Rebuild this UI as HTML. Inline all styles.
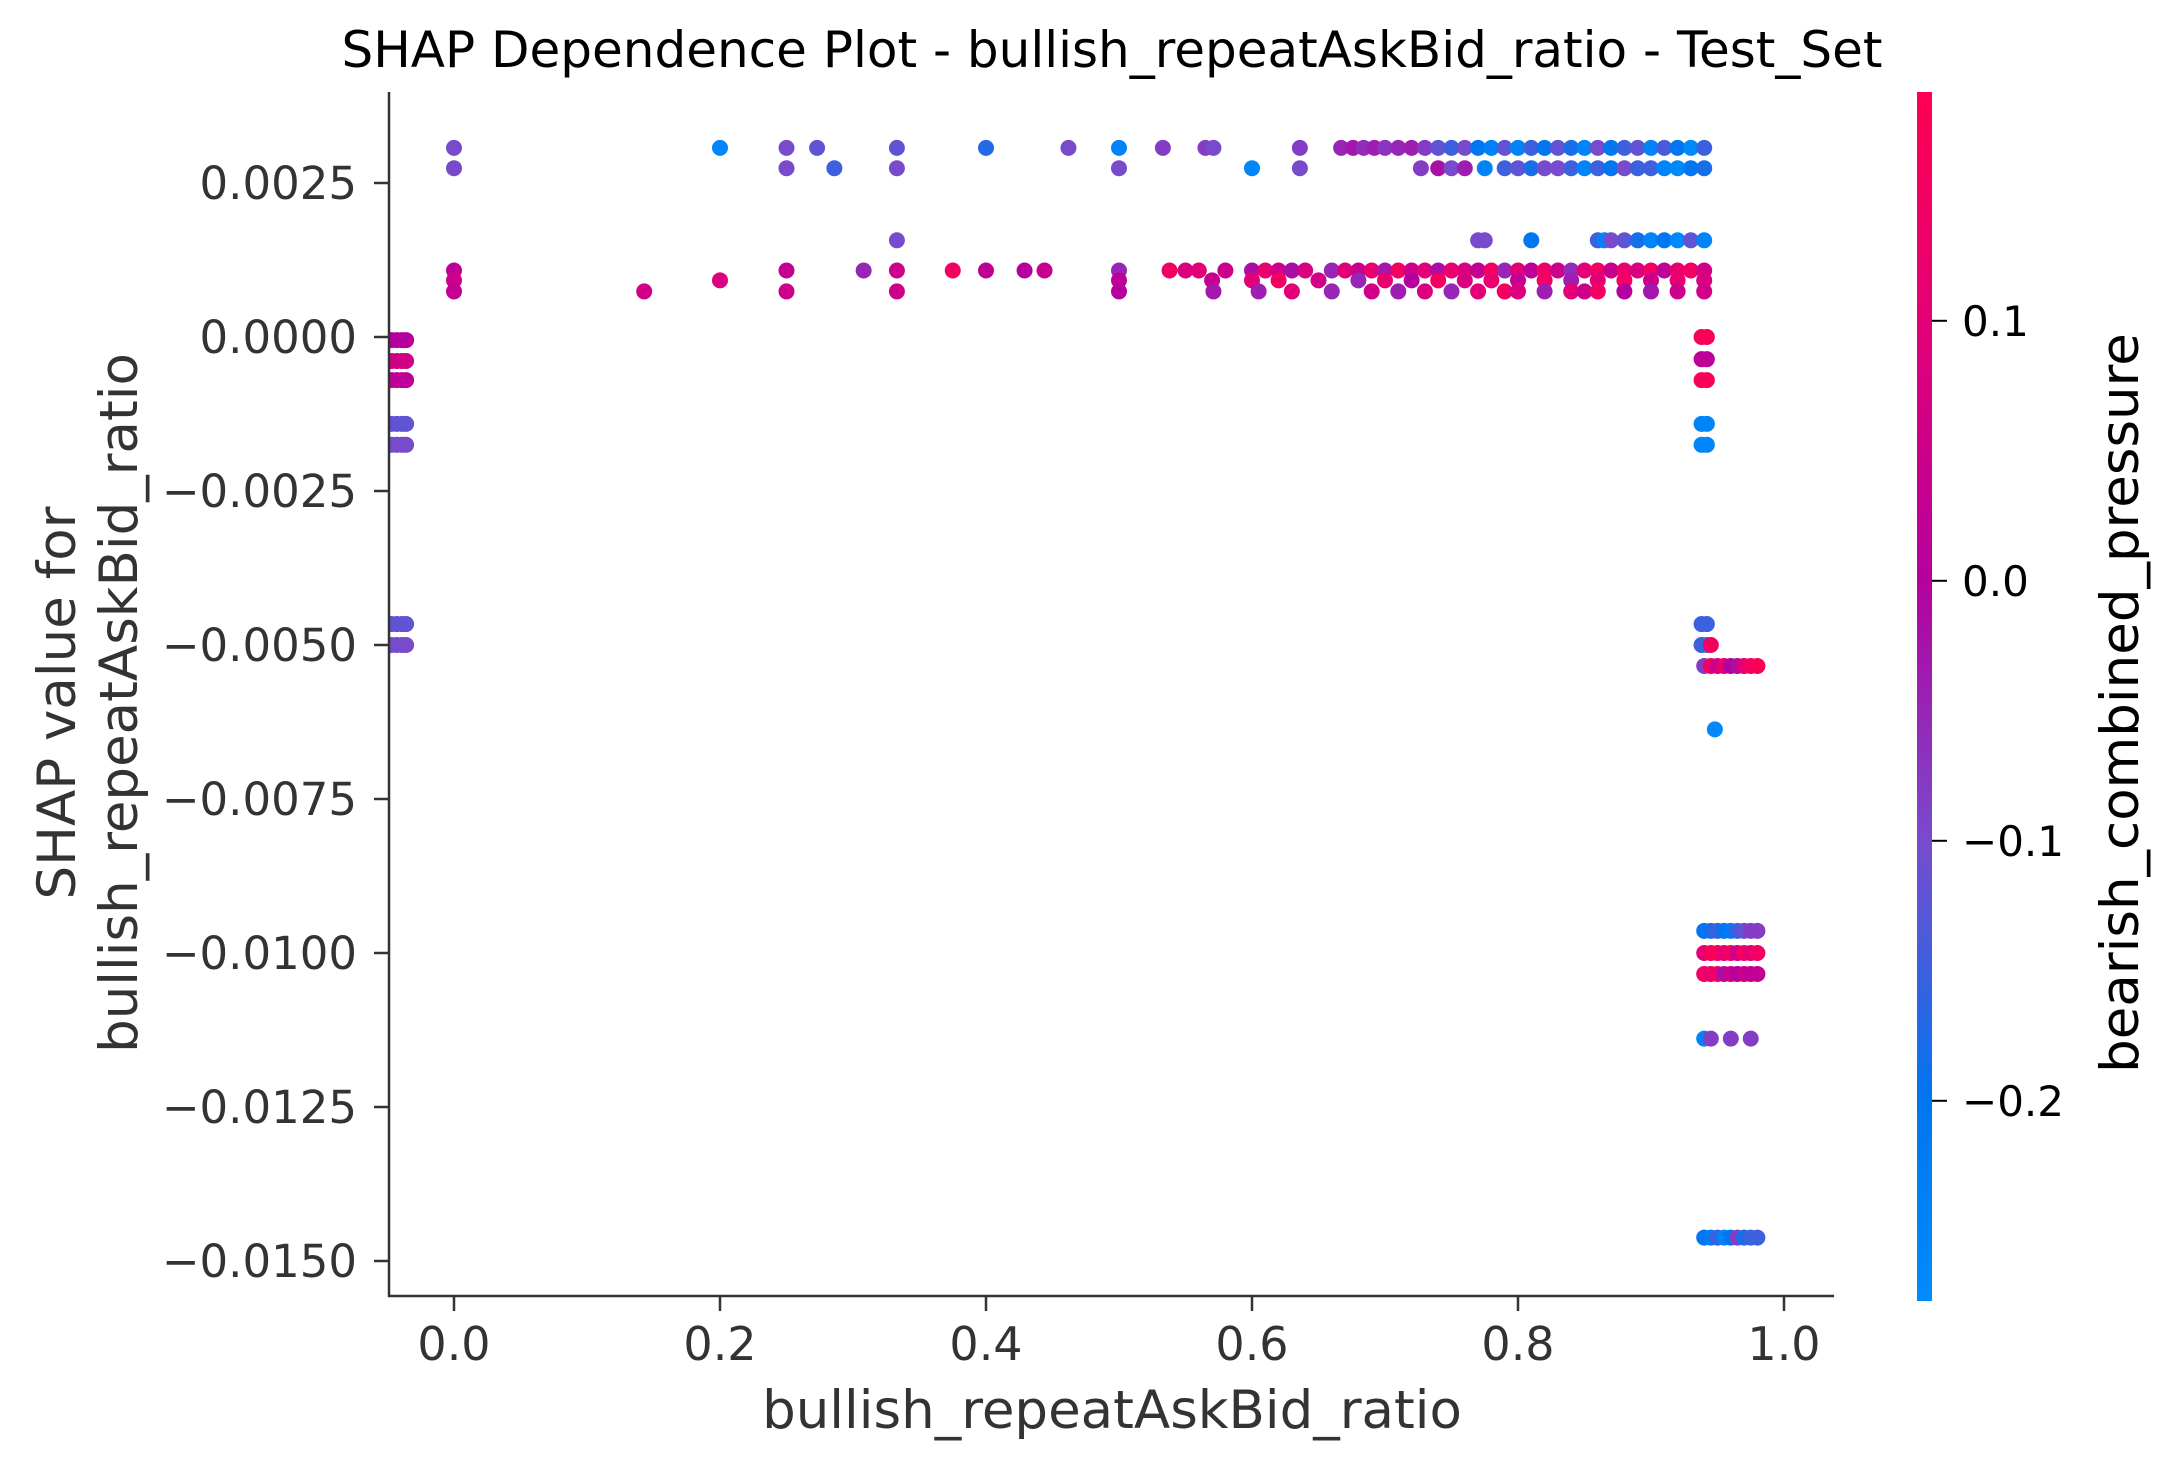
<!DOCTYPE html>
<html><head><meta charset="utf-8"><style>
html,body{margin:0;padding:0;background:#fff;}
svg{display:block;font-family:"DejaVu Sans","Liberation Sans",sans-serif;}
</style></head><body>
<svg id="chart" width="2172" height="1471" viewBox="0 0 2172 1471" xmlns="http://www.w3.org/2000/svg">
<defs>
<linearGradient id="cbar" x1="0" y1="1" x2="0" y2="0">
<stop offset="0" stop-color="#008bfb"/><stop offset="0.166" stop-color="#0076f0"/><stop offset="0.38" stop-color="#784bcd"/><stop offset="0.596" stop-color="#b5009e"/><stop offset="0.8" stop-color="#e10078"/><stop offset="1" stop-color="#ff0052"/>
</linearGradient>
<clipPath id="plotclip"><rect x="390" y="80" width="1460" height="1216"/></clipPath>
</defs>
<text x="1112" y="67" font-size="50" text-anchor="middle" fill="#000">SHAP Dependence Plot - bullish_repeatAskBid_ratio - Test_Set</text>
<g id="points" clip-path="url(#plotclip)"></g>
<g id="axes"></g>
<rect x="1917" y="92" width="15" height="1209" fill="url(#cbar)"/>
<g id="cbticks"></g>
<text x="0" y="0" font-size="53" text-anchor="middle" fill="#333" transform="translate(75,703) rotate(-90)">SHAP value for</text>
<text x="0" y="0" font-size="53" text-anchor="middle" fill="#333" transform="translate(137,703) rotate(-90)">bullish_repeatAskBid_ratio</text>
<text x="1112" y="1428" font-size="53" text-anchor="middle" fill="#333">bullish_repeatAskBid_ratio</text>
<text x="0" y="0" font-size="53" text-anchor="middle" fill="#000" transform="translate(2138,703) rotate(-90)">bearish_combined_pressure</text>
</svg>
<script>
const xTicks=[0,0.2,0.4,0.6,0.8,1.0];
const xTickLabels=["0.0","0.2","0.4","0.6","0.8","1.0"];
const yTicks=[0.0025,0,-0.0025,-0.005,-0.0075,-0.01,-0.0125,-0.015];
const yTickLabels=["0.0025","0.0000","\u22120.0025","\u22120.0050","\u22120.0075","\u22120.0100","\u22120.0125","\u22120.0150"];
const cTicks=[0.1,0,-0.1,-0.2];
const cTickLabels=["0.1","0.0","\u22120.1","\u22120.2"];

const rowAX=[0,0.2,0.25,0.273,0.333,0.4,0.462,0.5,0.533,0.565,0.571,0.636,0.667,0.676,0.684,0.692,0.7,0.71,0.72,0.73,0.74,0.75,0.76,0.77,0.78,0.79,0.8,0.81,0.82,0.83,0.84,0.85,0.86,0.87,0.88,0.89,0.9,0.91,0.92,0.93,0.94];
const rowAC=[-0.1,-0.26,-0.1,-0.12,-0.12,-0.17,-0.1,-0.25,-0.08,-0.08,-0.1,-0.08,-0.05,-0.03,-0.06,-0.04,-0.07,-0.05,-0.04,-0.08,-0.12,-0.15,-0.1,-0.2,-0.24,-0.12,-0.25,-0.15,-0.2,-0.12,-0.18,-0.25,-0.1,-0.2,-0.15,-0.12,-0.25,-0.14,-0.2,-0.27,-0.15];
const rowBX=[0,0.25,0.286,0.333,0.5,0.6,0.636,0.727,0.74,0.75,0.76,0.775,0.79,0.8,0.81,0.82,0.83,0.84,0.85,0.86,0.87,0.88,0.89,0.9,0.91,0.92,0.93,0.94];
const rowBC=[-0.1,-0.1,-0.15,-0.1,-0.1,-0.26,-0.1,-0.08,-0.02,-0.1,-0.04,-0.25,-0.15,-0.12,-0.18,-0.1,-0.1,-0.15,-0.25,-0.15,-0.2,-0.1,-0.15,-0.15,-0.25,-0.27,-0.2,-0.18];
const rowCX=[0.333,0.77,0.775,0.81,0.86,0.865,0.87,0.88,0.89,0.9,0.91,0.92,0.93,0.94];
const rowCC=[-0.1,-0.1,-0.1,-0.2,-0.15,-0.25,-0.1,-0.12,-0.18,-0.25,-0.2,-0.27,-0.12,-0.25];
const rowDX=[0,0.25,0.308,0.333,0.375,0.4,0.429,0.444,0.5,0.538,0.55,0.56,0.58,0.6,0.61,0.62,0.63,0.64,0.66,0.67,0.68,0.69,0.7,0.71,0.72,0.73,0.74,0.75,0.76,0.77,0.78,0.79,0.8,0.81,0.82,0.83,0.84,0.85,0.86,0.87,0.88,0.89,0.9,0.91,0.92,0.93,0.94];
const rowDC=[0.02,0.03,-0.05,0.05,0.15,0.02,0,0.04,-0.05,0.15,0.08,0.1,0.05,-0.02,0.12,0.05,-0.02,0.08,-0.05,0.1,0.04,0.12,-0.03,0.15,0.05,0.1,-0.02,0.12,0.08,0.03,0.15,-0.05,0.1,0.02,0.14,0.05,-0.06,0.1,0.15,0.04,0.12,0.08,0.15,0.02,0.12,0.15,0.06];
const rowEX=[0,0.2,0.5,0.57,0.6,0.62,0.65,0.68,0.7,0.72,0.74,0.76,0.78,0.8,0.82,0.84,0.86,0.88,0.9,0.92,0.94];
const rowEC=[0.05,0.08,0.02,0.04,0.1,0.15,0.06,-0.05,0.12,0,0.15,0.08,0.12,0.03,0.15,-0.04,0.1,0.15,0.05,0.12,0.08];
const rowFX=[0,0.143,0.25,0.333,0.5,0.571,0.605,0.63,0.66,0.69,0.71,0.73,0.75,0.77,0.79,0.8,0.82,0.84,0.85,0.86,0.88,0.9,0.92,0.94];
const rowFC=[0.03,0.06,0.05,0.05,0,-0.03,-0.04,0.1,-0.05,0.06,-0.04,0.08,-0.05,0.1,0.15,0.08,-0.04,0.1,0.05,0.15,0,-0.03,0.05,0.06];
const clusterX=[0.938,0.942,0.938,0.942,0.938,0.942,0.938,0.942,0.938,0.942,0.938,0.942,0.938,0.942,0.945,0.948];
const clusterY=[0,0,-0.00036,-0.00036,-0.0007,-0.0007,-0.00141,-0.00141,-0.00175,-0.00175,-0.00466,-0.00466,-0.005,-0.005,-0.005,-0.00637];
const clusterC=[0.17,0.17,0.02,0.02,0.17,0.17,-0.25,-0.25,-0.26,-0.26,-0.15,-0.15,-0.15,-0.15,0.15,-0.27];
const tailX=[0.94,0.945,0.95,0.955,0.96,0.965,0.97,0.975,0.98];
const rowHC=[-0.08,0.15,0.05,0.12,0,-0.02,0.1,0.15,0.17];
const rowIC=[-0.2,-0.18,-0.15,-0.2,-0.22,-0.15,-0.12,-0.08,-0.08];
const rowJC=[0.1,0.17,0.17,0.1,0.15,0.05,0.15,0.1,0.15];
const rowKC=[0.15,0.12,0.15,-0.02,0.05,0,0.04,0.02,0.03];
const rowMC=[-0.2,-0.22,-0.15,-0.25,-0.2,-0.08,-0.18,-0.15,-0.15];
const rowLX=[0.94,0.945,0.96,0.975];
const rowLC=[-0.25,-0.08,-0.08,-0.08];
const nanX=[-0.047,-0.043,-0.039,-0.036];
const nanY=[-0.00005,-0.00039,-0.0007,-0.00141,-0.00175,-0.00466,-0.005];
const nanC=[0.0,0.06,0.02,-0.12,-0.1,-0.12,-0.1];

const xs=[],ys=[],cs=[];
function addRow(X,y,C){for(let i=0;i<X.length;i++){xs.push(X[i]);ys.push(y);cs.push(C[i]);}}
addRow(rowAX,0.00307,rowAC);addRow(rowBX,0.00274,rowBC);addRow(rowCX,0.00157,rowCC);
addRow(rowDX,0.00108,rowDC);addRow(rowEX,0.00092,rowEC);addRow(rowFX,0.00074,rowFC);
for(let i=0;i<clusterX.length;i++){xs.push(clusterX[i]);ys.push(clusterY[i]);cs.push(clusterC[i]);}
addRow(tailX,-0.00534,rowHC);addRow(tailX,-0.00964,rowIC);addRow(tailX,-0.01,rowJC);
addRow(tailX,-0.01034,rowKC);addRow(rowLX,-0.01139,rowLC);addRow(tailX,-0.01462,rowMC);
for(let j=0;j<nanY.length;j++){for(let i=0;i<nanX.length;i++){xs.push(nanX[i]);ys.push(nanY[j]);cs.push(nanC[j]);}}

const NS="http://www.w3.org/2000/svg";
function sx(v){return 454+v*1330;}
function sy(v){return 337-v/0.0025*154;}
const cMin=-0.277,cMax=0.188;
function scy(v){return 1301-(v-cMin)/(cMax-cMin)*1209;}
const stops=[[0,[0,139,251]],[0.166,[0,118,240]],[0.38,[120,75,205]],[0.596,[181,0,158]],[0.8,[225,0,120]],[1,[255,0,82]]];
function cmap(v){let t=Math.max(0,Math.min(1,(v-cMin)/(cMax-cMin)));
for(let i=1;i<stops.length;i++){if(t<=stops[i][0]){const a=stops[i-1],b=stops[i];const f=(t-a[0])/(b[0]-a[0]);
return 'rgb('+a[1].map((c,k)=>Math.round(c+(b[1][k]-c)*f)).join(',')+')';}}return 'rgb(255,0,82)';}

const pg=document.getElementById('points');
for(let i=0;i<xs.length;i++){const c=document.createElementNS(NS,'circle');


c.setAttribute('cx',sx(xs[i]));c.setAttribute('cy',sy(ys[i]));c.setAttribute('r',8);c.setAttribute('fill',cmap(cs[i]));pg.appendChild(c);}

const ag=document.getElementById('axes');
function mk(tag,attrs){const e=document.createElementNS(NS,tag);for(const k in attrs)e.setAttribute(k,attrs[k]);return e;}
let l=mk('line',{x1:389,y1:92,x2:389,y2:1297,stroke:'#333','stroke-width':2.5});


ag.appendChild(l);
l=mk('line',{x1:388,y1:1296,x2:1834,y2:1296,stroke:'#333','stroke-width':2.5});


ag.appendChild(l);
for(let i=0;i<xTicks.length;i++){const x=sx(xTicks[i]);
const t=mk('line',{x1:x,y1:1296,x2:x,y2:1311,stroke:'#333','stroke-width':2.5});


ag.appendChild(t);
const tx=mk('text',{x:x,y:1360,'font-size':46,'text-anchor':'middle',fill:'#333'});tx.textContent=xTickLabels[i];


ag.appendChild(tx);}
for(let i=0;i<yTicks.length;i++){const y=sy(yTicks[i]);
const t=mk('line',{x1:374,y1:y,x2:389,y2:y,stroke:'#333','stroke-width':2.5});


ag.appendChild(t);
const tx=mk('text',{x:357,y:y+16,'font-size':45,'text-anchor':'end',fill:'#333'});tx.textContent=yTickLabels[i];


ag.appendChild(tx);}
const cg=document.getElementById('cbticks');
for(let i=0;i<cTicks.length;i++){const y=scy(cTicks[i]);
const t=mk('line',{x1:1932,y1:y,x2:1947,y2:y,stroke:'#000','stroke-width':2});


cg.appendChild(t);
const tx=mk('text',{x:1962,y:y+15,'font-size':42,'text-anchor':'start',fill:'#000'});tx.textContent=cTickLabels[i];


cg.appendChild(tx);}
</script>
</body></html>
